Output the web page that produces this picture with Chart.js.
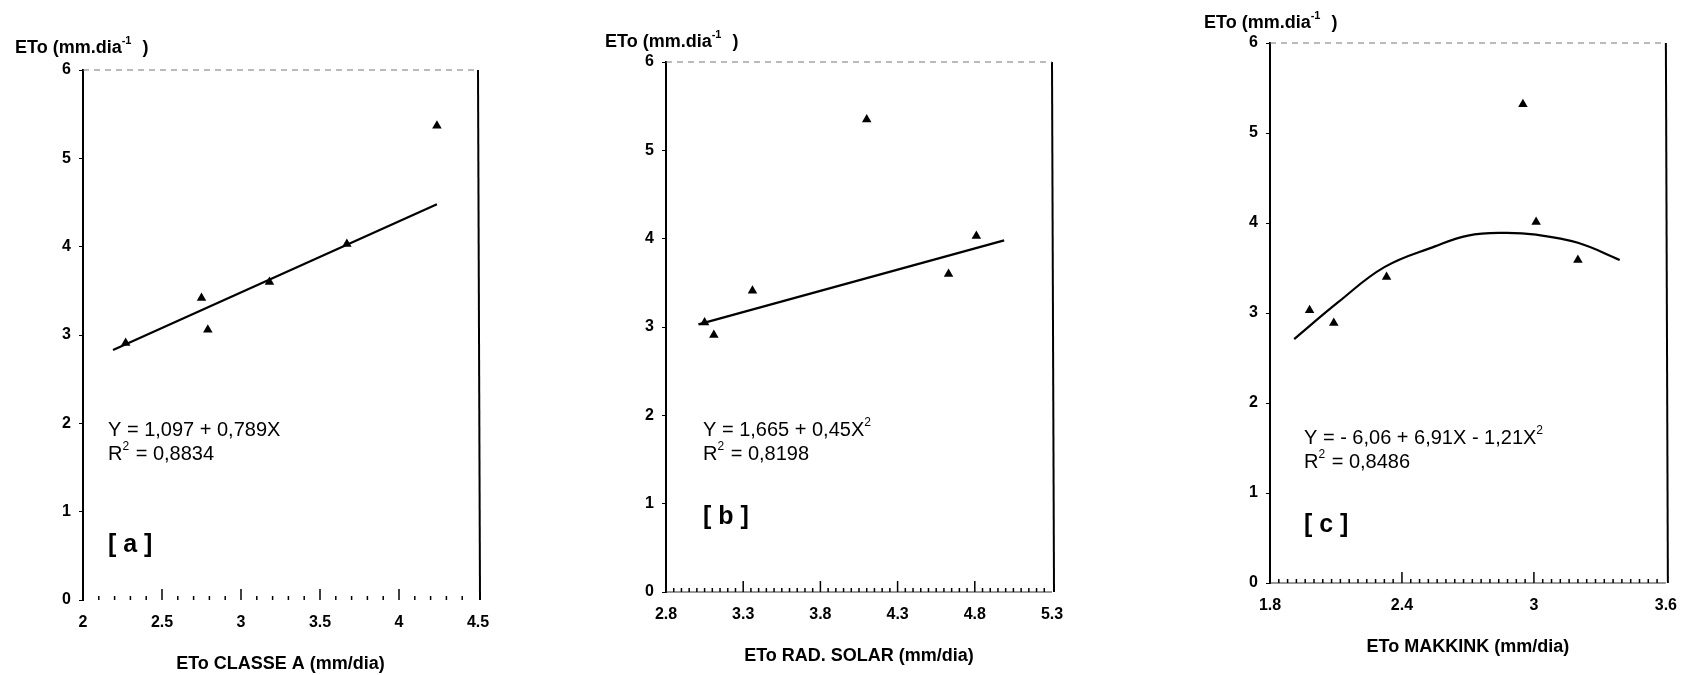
<!DOCTYPE html>
<html>
<head>
<meta charset="utf-8">
<script src="https://cdn.jsdelivr.net/npm/chart.js@4.4.1/dist/chart.umd.min.js"></script>
<style>
    html, body { margin: 0; padding: 0; background: #fff; }
    #wrap { position: relative; width: 1690px; height: 675px; overflow: hidden; }
    #wrap canvas { position: absolute; left: 0; top: 0; }
</style>
</head>
<body>
<div id="wrap">
    <canvas id="chartA" width="1690" height="675"></canvas>
    <canvas id="chartB" width="1690" height="675"></canvas>
    <canvas id="chartC" width="1690" height="675"></canvas>
</div>
<script>
const classeAX = [2.27, 2.75, 2.79, 3.18, 3.67, 4.24];
const classeAY = [2.91, 3.42, 3.06, 3.60, 4.03, 5.37];
const radSolarX = [3.05, 3.11, 3.36, 4.10, 4.63, 4.81];
const radSolarY = [3.05, 2.91, 3.41, 5.35, 3.60, 4.03];
const makkinkX = [1.98, 2.09, 2.33, 2.95, 3.01, 3.20];
const makkinkY = [3.03, 2.89, 3.40, 5.32, 4.01, 3.59];

// Fitted lines as drawn in the figure
const fitAX = [2.19, 4.24];
const fitAY = [2.83, 4.48];
const fitBX = [3.01, 4.99];
const fitBY = [3.03, 3.98];
const fitCX = [1.91, 2.11, 2.32, 2.55, 2.70, 2.86, 3.01, 3.20, 3.39];
const fitCY = [2.71, 3.12, 3.51, 3.74, 3.86, 3.89, 3.87, 3.78, 3.59];

// Axis ranges / tick labels
const yTicks = [0, 1, 2, 3, 4, 5, 6];
const xTicksA = [2, 2.5, 3, 3.5, 4, 4.5];
const xTicksB = [2.8, 3.3, 3.8, 4.3, 4.8, 5.3];
const xTicksC = [1.8, 2.4, 3, 3.6];

// Texts
const yTitle = [['ETo (mm.dia', false], ['-1', true], ['  )', false]];
const xTitleA = 'ETo CLASSE A (mm/dia)';
const xTitleB = 'ETo RAD. SOLAR (mm/dia)';
const xTitleC = 'ETo MAKKINK (mm/dia)';
const eqA = [['Y = 1,097 + 0,789X', false]];
const eqB = [['Y = 1,665 + 0,45X', false], ['2', true]];
const eqC = [['Y = - 6,06 + 6,91X - 1,21X', false], ['2', true]];
const r2A = [['R', false], ['2', true], [' = 0,8834', false]];
const r2B = [['R', false], ['2', true], [' = 0,8198', false]];
const r2C = [['R', false], ['2', true], [' = 0,8486', false]];

const FONT = '"Liberation Sans", Arial, sans-serif';
const W = 1690, H = 675;

// draw a run of text pieces, some of them as superscript
function drawRich(ctx, parts, x, y, size, weight) {
    let cx = x;
    ctx.textBaseline = 'middle';
    ctx.textAlign = 'left';
    parts.forEach(([txt, sup]) => {
        const s = sup ? Math.round(size * 0.6) : size;
        ctx.font = `${weight} ${s}px ${FONT}`;
        ctx.fillText(txt, cx, sup ? y - size * 0.38 : y);
        cx += ctx.measureText(txt).width + (sup ? 1 : 0);
    });
}

const framePlugin = {
    id: 'frame',
    afterDatasetsDraw(chart, args, opts) {
        const { ctx, chartArea: a, scales } = chart;
        const xs = scales.x;
        ctx.save();
        ctx.fillStyle = '#000';
        ctx.strokeStyle = '#000';

        // right border
        ctx.lineWidth = 2;
        ctx.beginPath();
        ctx.moveTo(a.right, a.top);
        ctx.lineTo(a.right + 2, a.bottom);
        ctx.stroke();

        // faint dashed top border
        ctx.lineWidth = 1;
        ctx.strokeStyle = '#777';
        ctx.setLineDash([6, 5]);
        ctx.beginPath();
        ctx.moveTo(a.left, a.top);
        ctx.lineTo(a.right, a.top);
        ctx.stroke();
        ctx.setLineDash([]);

        // baseline
        if (opts.baseline) {
            ctx.strokeStyle = '#333';
            ctx.beginPath();
            ctx.moveTo(a.left, a.bottom);
            ctx.lineTo(a.right, a.bottom);
            ctx.stroke();
        }

        // inward x ticks (minor + major)
        ctx.strokeStyle = '#000';
        ctx.lineWidth = 1.5;
        const n = Math.round((xs.max - xs.min) / opts.minor);
        const per = Math.round(opts.major / opts.minor);
        for (let i = 1; i < n; i++) {
            const px = xs.getPixelForValue(xs.min + i * opts.minor);
            const len = i % per === 0 ? 11 : 4;
            ctx.beginPath();
            ctx.moveTo(px, a.bottom);
            ctx.lineTo(px, a.bottom - len);
            ctx.stroke();
        }

        // titles
        drawRich(ctx, yTitle, a.left + opts.yTitleDx, a.top + opts.yTitleDy, 18, 'bold');
        ctx.font = `bold 18px ${FONT}`;
        ctx.textAlign = 'center';
        ctx.textBaseline = 'middle';
        ctx.fillText(opts.xTitle, (a.left + a.right) / 2, a.bottom + 64);

        // equation, R2 and panel letter
        const ex = a.left + opts.eqDx;
        drawRich(ctx, opts.eq, ex, a.bottom - opts.eqDy, 20, 'normal');
        drawRich(ctx, opts.r2, ex, a.bottom - opts.eqDy + 24, 20, 'normal');
        drawRich(ctx, [[opts.letter, false]], ex, a.bottom - opts.letterDy, 25, 'bold');
        ctx.restore();
    }
};

function makePanel(id, p) {
    const scatter = p.xs.map((x, i) => ({ x: x, y: p.ys[i] }));
    const fit = p.fx.map((x, i) => ({ x: x, y: p.fy[i] }));
    const yAxisW = 50, xAxisH = 40;

    return new Chart(document.getElementById(id), {
        type: 'scatter',
        data: {
            datasets: [{
                data: scatter,
                pointStyle: 'triangle',
                pointRadius: 5.5,
                backgroundColor: '#000',
                borderColor: '#000',
                borderWidth: 0
            }, {
                type: 'line',
                data: fit,
                borderColor: '#000',
                borderWidth: 2.2,
                pointRadius: 0,
                tension: p.tension || 0,
                fill: false
            }]
        },
        options: {
            responsive: false,
            animation: false,
            layout: {
                padding: {
                    left: p.L - yAxisW,
                    right: W - p.R,
                    top: p.T,
                    bottom: H - p.B - xAxisH
                }
            },
            plugins: {
                legend: { display: false },
                tooltip: { enabled: false },
                frame: p.frame
            },
            scales: {
                x: {
                    type: 'linear',
                    min: p.xTicks[0],
                    max: p.xTicks[p.xTicks.length - 1],
                    afterFit: (s) => { s.height = xAxisH; },
                    afterBuildTicks: (s) => { s.ticks = p.xTicks.map(v => ({ value: v })); },
                    grid: { display: false, drawTicks: false },
                    border: { display: false },
                    ticks: {
                        padding: 13,
                        color: '#000',
                        maxRotation: 0,
                        font: { family: FONT, size: 16, weight: 'bold' },
                        callback: (v) => String(+v.toFixed(1))
                    }
                },
                y: {
                    min: yTicks[0],
                    max: yTicks[yTicks.length - 1],
                    afterFit: (s) => { s.width = yAxisW; },
                    afterBuildTicks: (s) => { s.ticks = yTicks.map(v => ({ value: v })); },
                    grid: { display: true, drawOnChartArea: false, tickLength: 4, color: '#000' },
                    border: { display: true, color: '#000', width: 2 },
                    ticks: {
                        padding: 8,
                        color: '#000',
                        font: { family: FONT, size: 16, weight: 'bold' }
                    }
                }
            }
        },
        plugins: [framePlugin]
    });
}

makePanel('chartA', {
    L: 83, R: 478, T: 70, B: 600,
    xs: classeAX, ys: classeAY, fx: fitAX, fy: fitAY, xTicks: xTicksA,
    frame: { minor: 0.1, major: 0.5, baseline: false, xTitle: xTitleA,
             yTitleDx: -68, yTitleDy: -22, eq: eqA, r2: r2A, letter: '[ a ]',
             eqDx: 25, eqDy: 170, letterDy: 55 }
});

makePanel('chartB', {
    L: 666, R: 1052, T: 62, B: 592,
    xs: radSolarX, ys: radSolarY, fx: fitBX, fy: fitBY, xTicks: xTicksB,
    frame: { minor: 0.05, major: 0.5, baseline: true, xTitle: xTitleB,
             yTitleDx: -61, yTitleDy: -20, eq: eqB, r2: r2B, letter: '[ b ]',
             eqDx: 37, eqDy: 162, letterDy: 75 }
});

makePanel('chartC', {
    L: 1270, R: 1675, T: 43, B: 583,
    xs: makkinkX, ys: makkinkY, fx: fitCX, fy: fitCY, xTicks: xTicksC, tension: 0.4,
    frame: { minor: 0.04, major: 0.6, baseline: true, xTitle: xTitleC,
             yTitleDx: -66, yTitleDy: -20, eq: eqC, r2: r2C, letter: '[ c ]',
             eqDx: 34, eqDy: 145, letterDy: 58 }
});
</script>
</body>
</html>
